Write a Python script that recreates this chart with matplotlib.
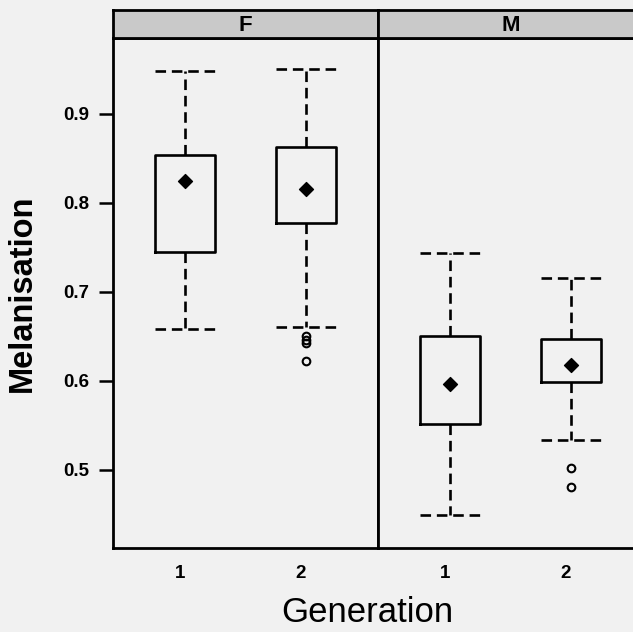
import numpy as np
import matplotlib
matplotlib.use('Agg')
import matplotlib.pyplot as plt
from matplotlib import transforms

plt.rcParams['font.family'] = ['Liberation Sans', 'DejaVu Sans']

# box statistics, per sex panel and generation
panels = ['F', 'M']
generations = ['1', '2']
whislo = {'F': [0.658, 0.660], 'M': [0.449, 0.533]}
q1 = {'F': [0.745, 0.777], 'M': [0.551, 0.599]}
med = {'F': [0.824, 0.815], 'M': [0.596, 0.618]}
q3 = {'F': [0.854, 0.862], 'M': [0.650, 0.647]}
whishi = {'F': [0.948, 0.950], 'M': [0.743, 0.715]}
fliers = {'F': [[], [0.650, 0.646, 0.642, 0.622]], 'M': [[], [0.502, 0.480]]}

ytick_vals = [0.5, 0.6, 0.7, 0.8, 0.9]

bg = '#f1f1f1'
fig = plt.figure(figsize=(6.33, 6.32), dpi=100, facecolor=bg)

W, H = 633.0, 632.0
def px_box(x0, y0, x1, y1):
    return [x0 / W, 1 - y1 / H, (x1 - x0) / W, (y1 - y0) / H]

panel_x = [(113, 378), (378, 643)]
dash = (0, (4, 2.2))
lw = 1.9

for i, p in enumerate(panels):
    x0, x1 = panel_x[i]
    ax = fig.add_axes(px_box(x0, 38, x1, 548), facecolor=bg)
    strip = fig.add_axes(px_box(x0, 10, x1, 38), facecolor='#c9c9c9')
    strip.set_xticks([])
    strip.set_yticks([])
    for s in strip.spines.values():
        s.set_linewidth(2)
    strip.text(0.5, 0.45, p, ha='center', va='center', fontsize=16,
               fontweight='bold', transform=strip.transAxes)

    stats = []
    for j, g in enumerate(generations):
        stats.append(dict(label=g, whislo=whislo[p][j], q1=q1[p][j], med=med[p][j],
                          q3=q3[p][j], whishi=whishi[p][j], fliers=fliers[p][j]))
    ax.bxp(stats, positions=[1, 2], widths=0.5, capwidths=0.5,
           boxprops=dict(color='black', linewidth=lw),
           whiskerprops=dict(color='black', linewidth=lw, linestyle=dash),
           capprops=dict(color='black', linewidth=lw, linestyle=dash),
           medianprops=dict(linewidth=0),
           flierprops=dict(marker='o', markersize=5.5, markerfacecolor='none',
                           markeredgecolor='black', markeredgewidth=1.5))
    ax.scatter([1, 2], med[p], marker='D', s=50, color='black', zorder=3)

    ax.set_xlim(0.4, 2.6)
    ax.set_ylim(0.412, 0.985)
    ax.set_xticks([1, 2])
    ax.set_xticklabels(generations, fontsize=13.5, fontweight='bold')
    ax.tick_params(axis='x', length=0, pad=12)
    shift = transforms.ScaledTranslation(-5 / 100, 0, fig.dpi_scale_trans)
    for lab in ax.get_xticklabels():
        lab.set_transform(lab.get_transform() + shift)
    for s in ax.spines.values():
        s.set_linewidth(2)
    if i == 0:
        ax.set_yticks(ytick_vals)
        ax.set_yticklabels([f'{v:.1f}' for v in ytick_vals], fontsize=13.5,
                           fontweight='bold')
        ax.tick_params(axis='y', length=10, width=1.8, pad=7)
    else:
        ax.set_yticks([])

fig.text(22 / W, 1 - 293 / H, 'Melanisation', rotation=90, fontsize=23.5,
         fontweight='bold', ha='center', va='center')
fig.text(367 / W, 1 - 613 / H, 'Generation', fontsize=25, ha='center', va='center')

fig.savefig('out.png', dpi=100, facecolor=bg)
